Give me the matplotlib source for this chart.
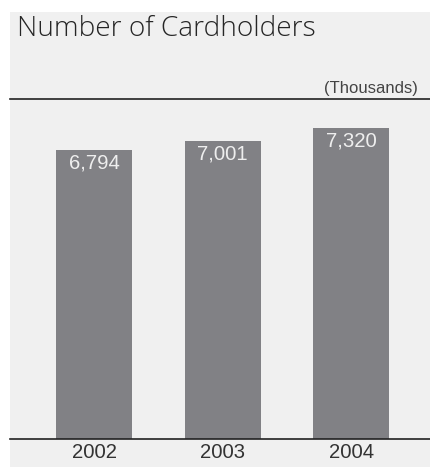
#!/usr/bin/env python3

import matplotlib
matplotlib.use('Agg')
import matplotlib.pyplot as plt

years = ['2002', '2003', '2004']
cardholders = [6794, 7001, 7320]
value_labels = ['6,794', '7,001', '7,320']

W, H = 431, 468
BG = '#f0f0f0'
BAR = '#818185'


def fx(px):
    return px / W


def fy(py):
    return 1 - py / H


def main():
    plt.rcParams['font.family'] = ['Liberation Sans', 'DejaVu Sans']

    fig = plt.figure(figsize=(W / 100, H / 100), dpi=100)
    fig.patch.set_facecolor('white')

    # grey panel behind everything
    bg = fig.add_axes([fx(10), fy(467), fx(421), 455 / H], zorder=0)
    bg.set_facecolor(BG)
    bg.set_xticks([])
    bg.set_yticks([])
    for s in bg.spines.values():
        s.set_visible(False)

    ax = fig.add_axes([fx(10), fy(439), fx(421), 340 / H], zorder=1)
    ax.set_facecolor('none')

    x = list(range(len(years)))
    ax.bar(x, cardholders, width=0.59, color=BAR, zorder=2)

    for xi, v, lab in zip(x, cardholders, value_labels):
        ax.text(xi, v - 80, lab, ha='center', va='top', fontsize=14.7,
                color='#eeeeee', zorder=3)

    ax.set_xlim(-0.655, 2.62)
    ax.set_ylim(0, 8000)

    for side in ['left', 'right']:
        ax.spines[side].set_visible(False)
    for side in ['top', 'bottom']:
        ax.spines[side].set_linewidth(1.2)
        ax.spines[side].set_color('#222222')

    ax.set_yticks([])
    ax.set_xticks(x)
    ax.set_xticklabels(years, fontsize=14.6, color='#333333')
    ax.tick_params(axis='x', length=0, pad=3)

    fig.text(fx(17), fy(36), 'Number of Cardholders', ha='left',
             va='baseline', fontsize=20.2, color='#262626',
             family=['Open Sans', 'DejaVu Sans'], fontweight='light')
    fig.text(fx(418), fy(93), '(Thousands)', ha='right', va='baseline',
             fontsize=12, color='#444444')

    fig.savefig('out.png', dpi=100, facecolor='white')


if __name__ == '__main__':
    main()
